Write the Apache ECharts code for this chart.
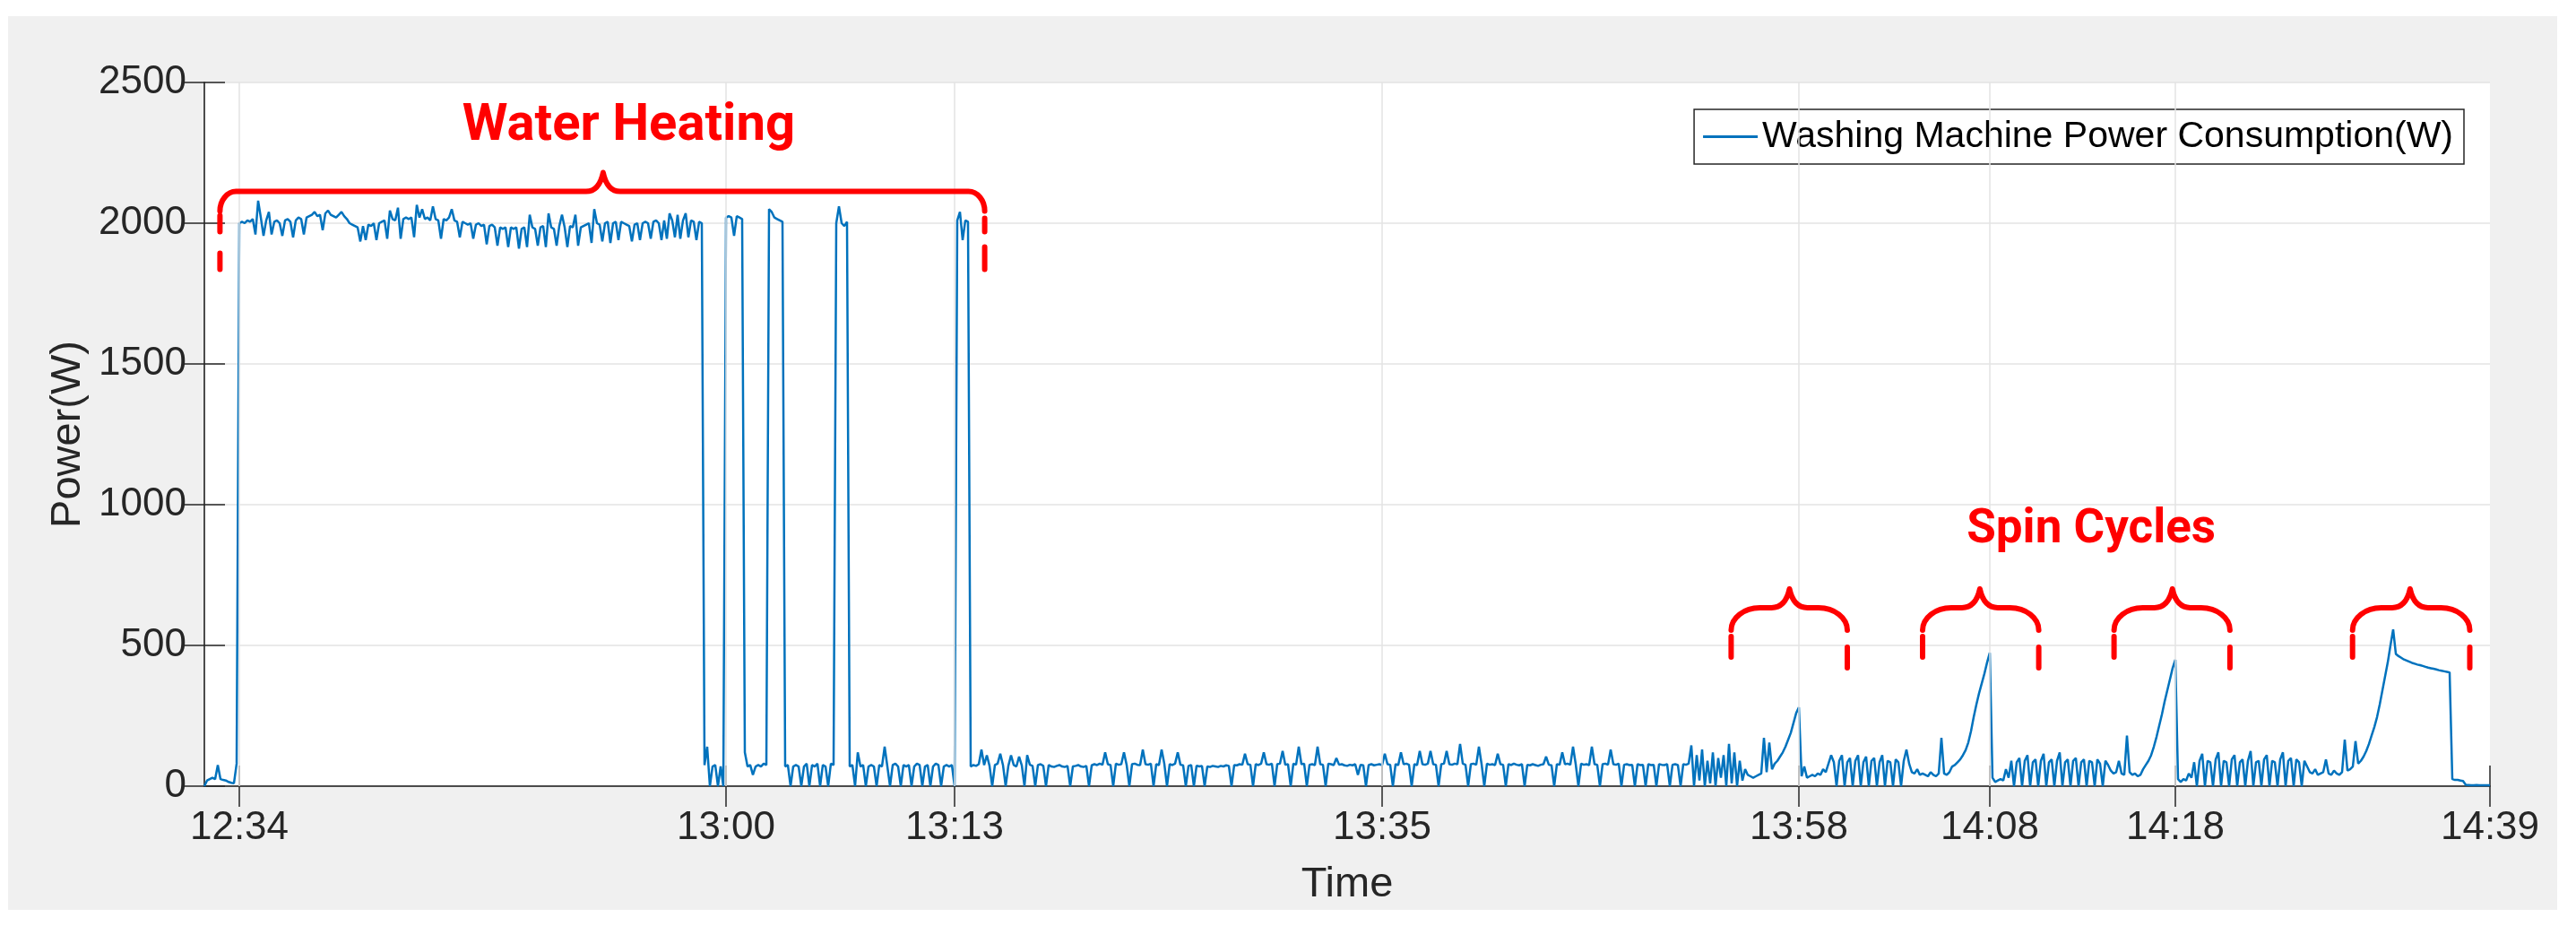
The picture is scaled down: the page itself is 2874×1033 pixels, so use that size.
<!DOCTYPE html>
<html>
<head>
<meta charset="utf-8">
<title>Washing Machine Power Consumption</title>
<script src="https://cdn.jsdelivr.net/npm/echarts@6/dist/echarts.min.js"></script>
<style>
  html, body { margin: 0; padding: 0; background: #fff; }
  #chart { width: 2874px; height: 1033px; }
</style>
</head>
<body>
<div id="chart"></div>
<script>
  // power readings (W), one per sample
  const standby = [0, 20, 25, 30, 25, 75, 25, 22, 20, 15, 12, 10, 80];
  const heating = [
    2000, 2005, 2000, 2010, 2005, 2015, 1960, 2080, 2020, 1955,
    2010, 2040, 1960, 2005, 2010, 2000, 1955, 2010, 2015, 2005,
    1950, 2010, 2020, 2015, 1960, 2020, 2025, 2030, 2040, 2025,
    2030, 1975, 2035, 2045, 2030, 2025, 2020, 2030, 2040, 2025,
    2015, 2000, 1995, 1990, 1985, 1935, 1990, 1940, 1995, 1990,
    2000, 1940, 2000, 2005, 2010, 1945, 2045, 2015, 2010, 2055,
    1945, 2015, 2020, 2015, 2020, 1950, 2065, 2020, 2050, 2015,
    2020, 2010, 2060, 2015, 2010, 1945, 2015, 2010, 2020, 2050,
    2010, 2005, 1950, 2005, 2000, 1995, 2000, 1945, 1995, 2000,
    1990, 1995, 1925, 1990, 1995, 1985, 1920, 1985, 1980, 1985,
    1915, 1985, 1980, 1985, 1910, 1980, 1985, 1915, 2030, 1985,
    1980, 1920, 1985, 1990, 1915, 2035, 1985, 1980, 1920, 1990,
    2030, 1985, 1915, 1990, 1985, 2030, 1920, 1985, 1990, 1995,
    2000, 1930, 2050, 2000, 1995, 1935, 2000, 2005, 1930, 2000,
    2005, 1940, 2005, 2000, 1995, 1990, 1935, 1995, 2000, 1940,
    2000, 2005, 2000, 1945, 2005, 2010, 2000, 1940, 2010, 1945,
    2035, 2010, 1950, 2030, 1945, 2010, 2035, 1950, 2010, 2005,
    1940, 2005, 2000
  ];
  const heatingPulses = [
    75, 140, 0, 70, 75, 0, 70, 0,
    2020, 2025, 2020, 1955, 2025, 2020, 2015,
    120, 70, 75, 40, 70, 75, 70, 80, 75,
    2050, 2040, 2020, 2015, 2010, 2005,
    70, 75, 0, 70, 75, 70, 0, 70, 80, 0, 75, 70, 80, 0, 75, 70, 0, 80, 75,
    2000, 2060, 2000, 1990, 2005,
    70, 75, 0, 120, 70, 75, 0, 70, 75, 70, 0, 75, 70, 140, 70, 0, 75, 80, 70, 0,
    75, 70, 75, 0, 70, 80, 75, 0, 70, 75, 0, 70, 80, 75, 0, 70, 75, 70, 75, 0,
    2010, 2040, 1940, 2010, 2005
  ];
  const washing = [
    70, 75, 72, 78, 130, 75, 110, 72, 0, 75,
    80, 115, 75, 0, 72, 110, 75, 70, 105, 74,
    0, 110, 76, 72, 0, 75, 78, 72, 0, 75,
    70, 68, 72, 75, 70, 68, 72, 0, 70, 72,
    75, 70, 68, 72, 0, 74, 78, 75, 80, 76,
    120, 78, 75, 0, 80, 76, 78, 120, 75, 0,
    78, 80, 76, 75, 130, 78, 76, 80, 0, 78,
    75, 130, 80, 0, 78, 75, 80, 120, 76, 74,
    0, 72, 75, 0, 73, 70, 72, 0, 70, 68,
    72, 70, 68, 72, 70, 74, 72, 0, 75, 74,
    78, 76, 115, 78, 76, 0, 78, 75, 80, 120,
    78, 76, 80, 0, 78, 80, 125, 76, 78, 0,
    80, 76, 140, 78, 80, 0, 76, 78, 75, 140,
    78, 76, 0, 80, 78, 75, 100, 76, 78, 74,
    72, 76, 74, 78, 40, 76, 74, 0, 75, 78,
    74, 76, 78, 75, 115, 78, 76, 0, 78, 75,
    120, 78, 80, 76, 0, 78, 75, 125, 78, 76,
    80, 125, 78, 76, 0, 78, 80, 125, 78, 76,
    80, 78, 150, 80, 76, 0, 78, 80, 76, 140,
    78, 0, 80, 76, 78, 75, 115, 78, 76, 0,
    78, 75, 80, 76, 74, 78, 0, 76, 74, 78,
    75, 72, 76, 78, 105, 76, 74, 0, 78, 76,
    120, 78, 80, 76, 140, 78, 0, 80, 76, 78,
    75, 140, 78, 76, 0, 78, 80, 76, 130, 78,
    76, 80, 0, 76, 78, 75, 76, 0, 78, 75,
    76, 0, 78, 75, 76, 0, 78, 76, 75, 78,
    0, 76, 78, 75, 0, 78, 76, 80
  ];
  const spinning = [
    145, 0, 110, 20, 130, 0, 90, 10, 120, 0, 100, 30, 110, 0, 150, 10, 120, 0, 90, 20,
    60, 40, 35, 30, 35, 40, 45, 172, 50, 155, 60, 80, 90, 105, 120, 140, 165, 190, 225, 260, 280, 35,
    70, 30, 35, 40, 35, 45, 40, 60, 50, 80,
    110, 85, 0, 90, 110, 0, 85, 100, 0, 90,
    110, 0, 85, 105, 0, 90, 100, 0, 85, 110,
    0, 90, 85, 0, 95, 85, 0, 90, 130, 80,
    50, 45, 60, 40, 45, 40, 35, 50, 40, 35,
    45, 172, 45, 40, 50, 70, 75, 85, 95, 110,
    128, 155, 195, 245, 290, 330, 365, 400, 440, 474, 30,
    15, 20, 25, 20, 60, 30, 90, 0, 85, 100,
    0, 90, 110, 0, 85, 95, 0, 90, 115, 0,
    85, 95, 0, 90, 120, 0, 85, 95, 0, 90,
    100, 0, 85, 95, 0, 90, 85, 0, 95, 80,
    0, 90, 75, 55, 45, 50, 90, 45, 40, 180,
    50, 40, 45, 35, 40, 60, 75, 90, 110, 140,
    175, 215, 255, 300, 340, 380, 420, 449, 25,
    15, 25, 20, 45, 30, 85, 0, 90, 115, 0,
    90, 85, 0, 95, 120, 0, 90, 85, 0, 95,
    110, 0, 85, 95, 0, 90, 125, 0, 85, 90,
    0, 95, 110, 0, 90, 85, 0, 95, 120, 0,
    90, 100, 0, 95, 85, 0, 90, 70, 50, 45,
    60, 40, 45, 50, 95, 45, 40, 55, 45, 40,
    50, 165, 55, 60, 70, 160, 80, 90, 105, 125,
    150, 180, 210, 245, 290, 340, 390, 440, 500, 557,
    470, 462, 456, 450, 446, 442, 438, 435, 432, 430,
    427, 424, 421, 419, 417, 415, 412, 410, 408, 406,
    404, 25, 22, 22, 20, 18, 5, 4, 3, 3,
    4, 3, 3, 3, 3, 3
  ];

  // x axis is the sample number; time labels sit on chosen samples
  const tickSamples = [13, 194, 279, 438, 593, 664, 733, 850];
  const tickLabels = ['12:34', '13:00', '13:13', '13:35', '13:58', '14:08', '14:18', '14:39'];

  // braces, in data units: [first sample, last sample, peak sample, level W, kind]
  const braces = [
    [5.8, 290.2, 148.3, 2113, 0],
    [567.8, 611.0, 589.5, 634, 1],
    [639.0, 682.2, 660.3, 634, 1],
    [710.2, 753.3, 731.9, 634, 1],
    [798.9, 842.5, 820.3, 634, 1]
  ];
  const noteTexts = ['Water Heating', 'Spin Cycles'];
  const notePlaces = [[157.8, 2342], [701.7, 909]];
  const noteSizes = [58, 53];

  const seriesName = 'Washing Machine Power Consumption(W)';
  const power = [].concat(standby, heating, heatingPulses, washing, spinning);
  const seriesData = power.map((v, i) => [i, v]);

  const font = 'Liberation Sans, Arial, sans-serif';
  const axisColor = '#404040';
  const textColor = '#262626';
  const red = '#ff0000';

  // brace drawing sizes (px) per kind: corner w/h, peak half width, peak height, dashes
  const braceShapes = [
    { rh: 18, rv: 22, ph: 19, peakH: 21, dashL: [[27, 45], [69, 87]], dashR: [[30, 45], [62, 87]] },
    { rh: 32, rv: 25, ph: 20, peakH: 21, dashL: [[32, 55]], dashR: [[44, 67]] }
  ];

  const chart = echarts.init(document.getElementById('chart'));

  const tickLabel = v => {
    const k = tickSamples.indexOf(v);
    return k < 0 ? '' : tickLabels[k];
  };

  function renderBrace(params, api) {
    const g = braceShapes[api.value(4)];
    const l = api.coord([api.value(0), api.value(3)]);
    const r = api.coord([api.value(1), api.value(3)]);
    const p = api.coord([api.value(2), api.value(3)]);
    const xl = l[0], xr = r[0], xp = p[0], y = l[1];
    let d = 'M' + xl + ',' + (y + g.rv) +
      'C' + xl + ',' + (y + g.rv * 0.45) + ' ' + (xl + g.rh * 0.45) + ',' + y + ' ' + (xl + g.rh) + ',' + y +
      'L' + (xp - g.ph) + ',' + y +
      'C' + (xp - g.ph * 0.35) + ',' + y + ' ' + (xp - 2) + ',' + (y - g.peakH * 0.55) + ' ' + xp + ',' + (y - g.peakH) +
      'C' + (xp + 2) + ',' + (y - g.peakH * 0.55) + ' ' + (xp + g.ph * 0.35) + ',' + y + ' ' + (xp + g.ph) + ',' + y +
      'L' + (xr - g.rh) + ',' + y +
      'C' + (xr - g.rh * 0.45) + ',' + y + ' ' + xr + ',' + (y + g.rv * 0.45) + ' ' + xr + ',' + (y + g.rv);
    g.dashL.forEach(s => { d += 'M' + xl + ',' + (y + s[0]) + 'L' + xl + ',' + (y + s[1]); });
    g.dashR.forEach(s => { d += 'M' + xr + ',' + (y + s[0]) + 'L' + xr + ',' + (y + s[1]); });
    return {
      type: 'path',
      shape: { pathData: d },
      style: { stroke: red, lineWidth: 6, fill: 'none', lineCap: 'round', lineJoin: 'round' }
    };
  }

  const option = {
    animation: false,
    backgroundColor: '#fff',
    grid: {
      left: 228, right: 96, top: 92, bottom: 156,
      show: true, backgroundColor: '#fff', borderWidth: 0
    },
    legend: {
      data: [{ name: seriesName, icon: 'rect' }],
      right: 125, top: 122,
      padding: [10, 12, 10, 10],
      itemWidth: 61, itemHeight: 3,
      backgroundColor: '#fff',
      borderColor: textColor, borderWidth: 1.5, borderRadius: 0,
      textStyle: { fontSize: 41, color: '#000', fontFamily: font }
    },
    xAxis: [{
      type: 'value', min: 0, max: 850, position: 'bottom',
      name: 'Time', nameLocation: 'middle', nameGap: 87,
      nameTextStyle: { fontSize: 47, color: textColor, fontFamily: font },
      axisLine: { lineStyle: { color: axisColor, width: 1.5 } },
      axisTick: { inside: true, length: 23, customValues: tickSamples, lineStyle: { color: textColor, width: 1.5 } },
      axisLabel: { customValues: tickSamples, formatter: tickLabel, fontSize: 44, color: textColor, fontFamily: font, margin: 25 },
      splitLine: { show: false }
    }, {
      type: 'value', min: 0, max: 850, position: 'top',
      axisLine: { lineStyle: { color: axisColor, width: 1.5 } },
      axisTick: { inside: true, length: 23, customValues: tickSamples, lineStyle: { color: textColor, width: 1.5 } },
      axisLabel: { show: false },
      splitLine: { show: false }
    }],
    yAxis: [{
      type: 'value', min: 0, max: 2500, interval: 500, position: 'left',
      name: 'Power(W)', nameLocation: 'middle', nameGap: 125, nameRotate: 90,
      nameTextStyle: { fontSize: 47, color: textColor, fontFamily: font },
      axisLine: { show: true, lineStyle: { color: axisColor, width: 1.5 } },
      axisTick: { show: true, inside: true, length: 23, lineStyle: { color: textColor, width: 1.5 } },
      axisLabel: { fontSize: 44, color: textColor, fontFamily: font, margin: 20, formatter: v => String(v) },
      splitLine: { show: true, lineStyle: { color: '#e3e3e3', width: 1.5 } }
    }, {
      type: 'value', min: 0, max: 2500, interval: 500, position: 'right',
      axisLine: { show: true, lineStyle: { color: axisColor, width: 1.5 } },
      axisTick: { show: true, inside: true, length: 23, lineStyle: { color: textColor, width: 1.5 } },
      axisLabel: { show: false },
      splitLine: { show: false }
    }],
    series: [{
      // vertical grid lines at the time ticks, drawn under the data
      name: 'grid', type: 'line', data: [], xAxisIndex: 0, yAxisIndex: 0, z: 1,
      markLine: {
        silent: true, symbol: 'none', label: { show: false },
        lineStyle: { color: '#e3e3e3', width: 1.5, type: 'solid' },
        data: tickSamples.slice(0, -1).map(v => ({ xAxis: v }))
      }
    }, {
      name: seriesName, type: 'line', data: seriesData,
      xAxisIndex: 0, yAxisIndex: 0, z: 3,
      symbol: 'none', showSymbol: false, sampling: null,
      lineStyle: { color: '#0072BD', width: 2.5 },
      itemStyle: { color: '#0072BD' }
    }, {
      name: 'braces', type: 'custom', data: braces,
      xAxisIndex: 0, yAxisIndex: 0, z: 10, silent: true, clip: false,
      encode: { x: [0, 1, 2], y: 3 },
      renderItem: renderBrace
    }]
  };
  chart.setOption(option);

  // gray figure panel and the red notes
  const px = p => chart.convertToPixel({ xAxisIndex: 0, yAxisIndex: 0 }, p);
  const elements = [{
    type: 'rect', z: -10, silent: true,
    shape: { x: 9, y: 18, width: 2844, height: 997 },
    style: { fill: '#f0f0f0' }
  }];
  noteTexts.forEach((t, k) => {
    const p = px(notePlaces[k]);
    elements.push({
      type: 'text', z: 100, silent: true, x: p[0], y: p[1],
      style: {
        text: t, fill: red, fontSize: noteSizes[k], fontWeight: 'bold',
        fontFamily: 'Roboto, Liberation Sans, sans-serif',
        align: 'center', verticalAlign: 'middle'
      }
    });
  });
  chart.setOption({ graphic: { elements: elements } });
</script>
</body>
</html>
